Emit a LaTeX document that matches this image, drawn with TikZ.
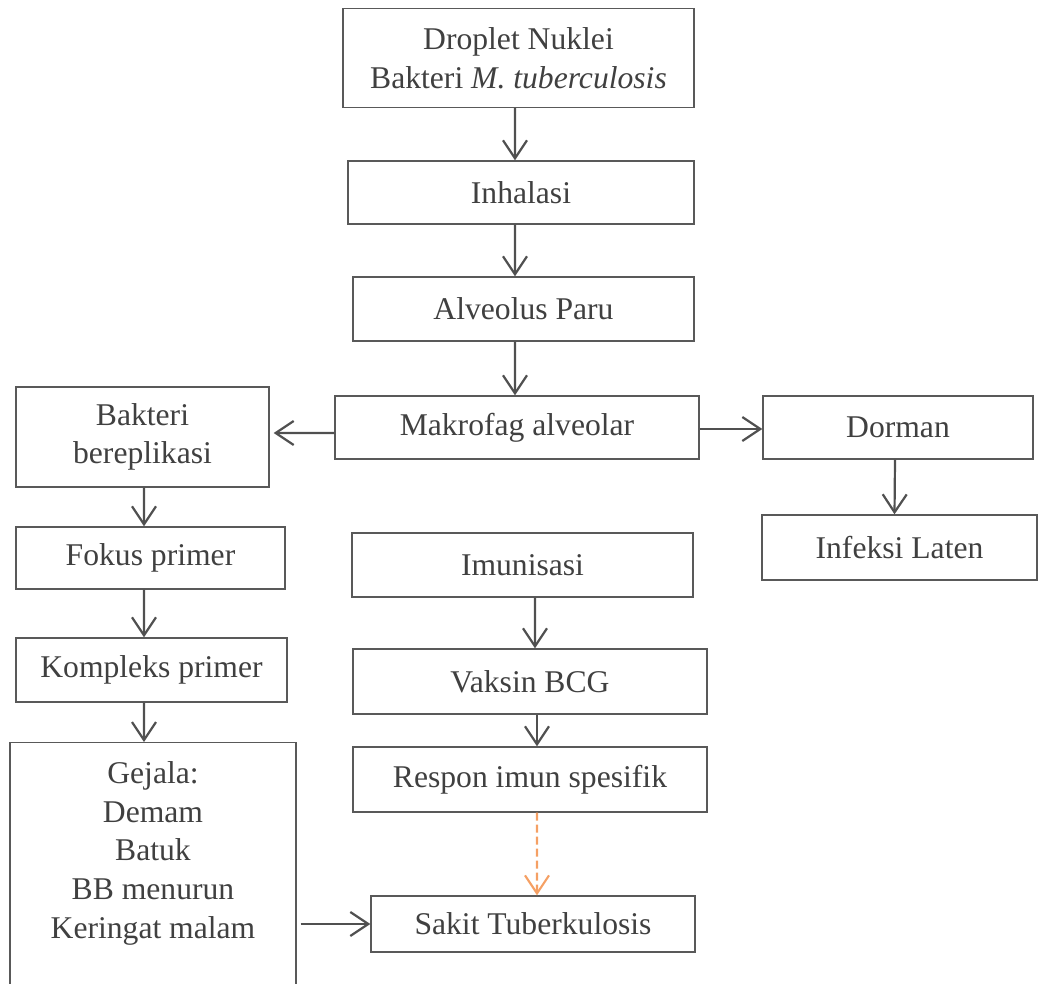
\documentclass[tikz,border=0pt]{standalone}
\usepackage{fontspec}
\setmainfont{Liberation Serif}
\usetikzlibrary{arrows.meta}
\definecolor{linegray}{HTML}{505050}
\definecolor{textgray}{HTML}{404040}
\definecolor{dashorange}{RGB}{245,160,100}
\tikzstyle{box} = [rectangle, draw=black!65, line width=.8pt, align=center, text=textgray, inner sep=0pt, font=\fontsize{18pt}{22pt}\selectfont]
\tikzstyle{arrow} = [line width=1.25pt, draw=linegray, -{Straight Barb[length=3.6mm,width=4.8mm]}]
\tikzstyle{dasharrow} = [line width=1.2pt, draw=dashorange, dash pattern=on 1.6mm off 0.8mm, -{Straight Barb[length=3.6mm,width=4.8mm]}]

\begin{document}
\begin{tikzpicture}
\useasboundingbox (0,0) rectangle (20.76,-19.66);
\clip (0,0) rectangle (20.76,-19.66);
% middle column
\node[box, minimum width=7.02cm, minimum height=1.98cm] (droplet) at (10.37,-1.16) {Droplet Nuklei\\Bakteri \textit{M. tuberculosis}};
\node[box, minimum width=6.92cm, minimum height=1.26cm] (inhalasi) at (10.42,-3.85) {Inhalasi};
\node[box, minimum width=6.82cm, minimum height=1.28cm] (alveolus) at (10.47,-6.18) {Alveolus Paru};
\node[box, minimum width=7.28cm, minimum height=1.26cm] (makrofag) at (10.34,-8.55) {Makrofag alveolar};
\node[box, minimum width=6.82cm, minimum height=1.28cm] (imunisasi) at (10.45,-11.3) {Imunisasi};
\node[box, minimum width=7.08cm, minimum height=1.30cm] (vaksin) at (10.60,-13.63) {Vaksin BCG};
\node[box, minimum width=7.08cm, minimum height=1.30cm] (respon) at (10.60,-15.59) {Respon imun spesifik};
\node[box, minimum width=6.48cm, minimum height=1.12cm] (sakit) at (10.66,-18.48) {Sakit Tuberkulosis};
% left column
\node[box, minimum width=5.06cm, minimum height=2.00cm] (bakteri) at (2.85,-8.74) {Bakteri\\bereplikasi};
\node[box, minimum width=5.38cm, minimum height=1.24cm] (fokus) at (3.01,-11.16) {Fokus primer};
\node[box, minimum width=5.42cm, minimum height=1.28cm] (kompleks) at (3.03,-13.40) {Kompleks primer};
\node[box, minimum width=5.72cm, anchor=north, inner ysep=0.38cm] (gejala) at (3.06,-14.84)
                {Gejala:\\Demam\\Batuk\\BB menurun\\Keringat malam\\[1.5cm]\mbox{}};
% right column
\node[box, minimum width=5.40cm, minimum height=1.26cm] (dorman) at (17.96,-8.55) {Dorman};
\node[box, minimum width=5.50cm, minimum height=1.30cm] (laten) at (17.99,-10.95) {Infeksi Laten};

\draw[arrow] ([xshift=-0.7mm]droplet.south) -- ([xshift=-1.2mm]inhalasi.north);
\draw[arrow] ([xshift=-1.2mm]inhalasi.south) -- ([xshift=-1.7mm]alveolus.north);
\draw[arrow] ([xshift=-1.7mm]alveolus.south) -- ([xshift=-0.4mm]makrofag.north);
\draw[arrow] ([yshift=-1.1mm]makrofag.west) -- ([yshift=0.8mm,xshift=0.8mm]bakteri.east);
\draw[arrow] ([yshift=-0.3mm]makrofag.east) -- ([yshift=-0.3mm]dorman.west);
\draw[arrow] ([xshift=-0.6mm]dorman.south) -- ([xshift=-1mm]laten.north);
\draw[arrow] ([xshift=0.3mm]bakteri.south) -- ([xshift=-1.3mm]fokus.north);
\draw[arrow] ([xshift=-1.3mm]fokus.south) -- ([xshift=-1.5mm]kompleks.north);
\draw[arrow] ([xshift=-1.5mm]kompleks.south) -- ([xshift=-1.8mm]gejala.north);
\draw[arrow] ([xshift=2.5mm]imunisasi.south) -- ([xshift=1mm]vaksin.north);
\draw[arrow] ([xshift=1.4mm]vaksin.south) -- ([xshift=1.4mm]respon.north);
\draw[dasharrow] ([xshift=1.4mm]respon.south) -- ([xshift=0.8mm]sakit.north);
\draw[arrow, shorten <=0.8mm] (gejala.east |- sakit.west) -- (sakit.west);
\end{tikzpicture}
\end{document}
